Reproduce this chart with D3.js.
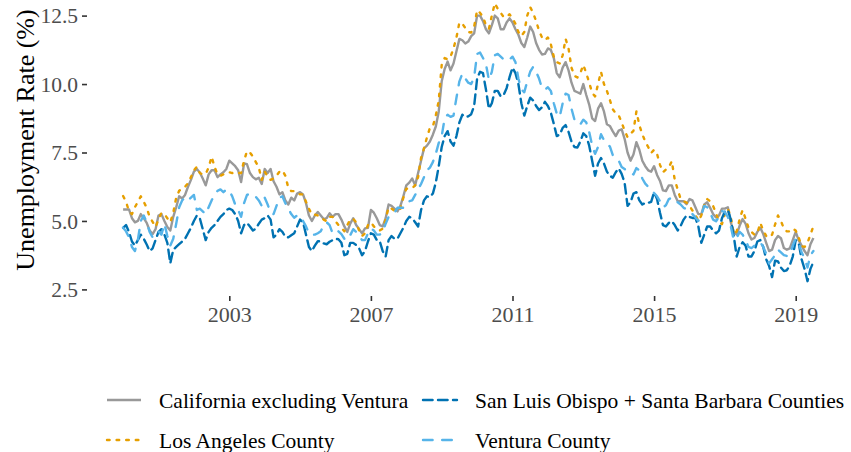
<!DOCTYPE html>
<html>
<head>
<meta charset="utf-8">
<script src="https://cdn.jsdelivr.net/npm/d3@7"></script>
<style>
  body { margin: 0; background: #fff; }
  svg { display: block; }
  text { font-family: "Liberation Serif", "Times New Roman", serif; }
</style>
</head>
<body>
<svg id="chart" width="851" height="452"></svg>
<script>
// monthly series, first value is January 2000
const startYear = 2000;

const seriesNames = [
	"California excluding Ventura",
	"Los Angeles County",
	"San Luis Obispo + Santa Barbara Counties",
	"Ventura County"
];

const caExVentura = [
	5.42, 5.42, 5.42, 5.1, 4.95, 5.0, 5.25, 5.1, 4.93, 4.65, 4.52, 4.7,        // 2000
	5.2, 5.25, 5.0, 4.78, 4.65, 5.15, 5.5, 5.9, 5.82, 5.95, 6.25, 6.5,         // 2001
	6.8, 6.9, 6.77, 6.55, 6.3, 6.7, 6.85, 6.85, 6.6, 6.7, 6.78, 6.9,           // 2002
	7.2, 7.1, 7.0, 6.85, 6.42, 7.1, 7.07, 6.75, 6.6, 6.52, 6.58, 6.35,         // 2003
	6.9, 6.75, 6.9, 6.45, 6.25, 5.97, 6.05, 5.75, 5.6, 5.85, 5.75, 6.0,        // 2004
	6.05, 5.97, 5.65, 5.2, 5.0, 5.2, 5.33, 5.2, 5.07, 5.1, 5.28, 5.15,         // 2005
	5.25, 5.25, 5.05, 4.8, 4.6, 4.9, 5.1, 4.85, 4.7, 4.55, 4.73, 4.75,         // 2006
	5.4, 5.3, 5.1, 4.85, 4.8, 5.1, 5.6, 5.55, 5.45, 5.35, 5.55, 5.9,           // 2007
	6.3, 6.4, 6.55, 6.3, 6.75, 7.2, 7.65, 7.75, 7.9, 8.15, 8.45, 9.0,          // 2008
	10.1, 10.55, 10.82, 10.5, 10.75, 11.2, 11.65, 11.6, 11.48, 11.55, 11.75, 11.85, // 2009
	12.5, 12.5, 12.3, 12.0, 11.85, 12.15, 12.5, 12.4, 12.0, 12.0, 12.25, 12.4, // 2010
	12.25, 12.0, 11.8, 11.5, 11.35, 11.7, 12.1, 11.9, 11.5, 11.25, 11.08, 11.1, // 2011
	11.3, 11.25, 10.95, 10.4, 10.25, 10.6, 10.8, 10.5, 10.05, 9.75, 9.7, 9.65, // 2012
	10.0, 9.6, 9.25, 8.75, 8.65, 9.1, 9.3, 9.0, 8.53, 8.47, 8.27, 8.1,         // 2013
	8.3, 8.35, 8.0, 7.5, 7.2, 7.43, 7.88, 7.6, 7.2, 7.0, 6.85, 6.8,            // 2014
	7.0, 6.68, 6.46, 6.12, 6.09, 6.3, 6.3, 5.95, 5.72, 5.72, 5.72, 5.61,       // 2015
	5.8, 5.75, 5.5, 5.25, 5.25, 5.6, 5.68, 5.48, 5.25, 5.13, 5.2, 5.45,        // 2016
	5.45, 5.5, 4.95, 4.61, 4.5, 4.83, 5.07, 4.9, 4.55, 4.32, 4.38, 4.6,        // 2017
	4.75, 4.52, 4.2, 3.9, 3.95, 4.3, 4.45, 4.37, 4.01, 3.95, 4.0, 4.3,         // 2018
	4.6, 4.3, 4.1, 3.9, 3.75, 4.15, 4.38                                       // 2019
];

const losAngeles = [
	5.91, 5.7, 5.35, 5.25, 5.5, 5.7, 5.9, 5.7, 5.48, 5.15, 4.97, 4.78,
	5.05, 5.3, 5.25, 5.1, 4.95, 5.3, 5.85, 6.1, 6.18, 6.25, 6.38, 6.6,
	6.85, 6.98, 6.75, 6.7, 6.72, 6.95, 7.35, 6.98, 6.7, 6.65, 6.7, 6.75,
	6.78, 6.75, 6.78, 6.75, 6.75, 7.2, 7.55, 7.5, 7.35, 7.15, 6.95, 6.5,
	6.8, 6.62, 6.5, 6.55, 6.65, 6.8, 6.85, 6.65, 6.21, 6.09, 6.09, 6.03,
	5.97, 5.97, 5.7, 5.45, 5.23, 5.23, 5.2, 5.13, 5.05, 4.99, 5.15, 5.15,
	4.99, 4.85, 4.75, 4.62, 4.85, 5.05, 5.08, 4.95, 4.65, 4.45, 4.55, 4.85,
	4.95, 4.8, 4.7, 4.65, 4.72, 5.05, 5.5, 5.45, 5.38, 5.38, 5.45, 5.85,
	6.18, 6.18, 6.2, 6.3, 6.6, 7.3, 7.65, 8.05, 8.4, 8.45, 8.85, 9.4,
	10.7, 10.95, 10.9, 11.0, 11.3, 11.7, 12.25, 12.2, 12.05, 11.9, 11.88, 12.1,
	12.7, 12.6, 12.45, 12.15, 12.02, 12.5, 12.95, 12.75, 12.6, 12.45, 12.45, 12.55,
	12.4, 12.2, 11.9, 11.75, 11.9, 12.5, 12.81, 12.6, 12.3, 11.95, 11.7, 11.6,
	11.7, 11.45, 11.0, 10.8, 10.75, 11.05, 11.65, 11.3, 10.6, 10.3, 10.24, 10.4,
	10.7, 10.4, 10.05, 9.68, 9.55, 10.0, 10.45, 10.0, 9.75, 9.42, 9.08, 8.93,
	8.86, 8.6, 8.3, 8.06, 8.18, 8.29, 9.0, 8.5, 8.17, 7.9, 7.7, 7.48,
	7.6, 7.45, 7.05, 6.78, 6.88, 6.95, 7.19, 6.5, 6.15, 5.8, 5.72, 5.67,
	5.55, 5.38, 5.23, 5.0, 5.2, 5.58, 5.8, 5.72, 5.55, 5.27, 4.98, 4.88,
	5.25, 5.45, 5.15, 4.5, 4.62, 5.07, 5.4, 5.08, 4.75, 4.6, 4.5, 4.55,
	4.93, 4.65, 4.45, 4.4, 4.5, 4.87, 5.2, 5.0, 4.72, 4.62, 4.62, 4.72,
	4.65, 4.4, 4.08, 4.05, 4.2, 4.5, 4.81
];

const sloSantaBarbara = [
	4.75, 4.85, 4.6, 4.25, 4.1, 4.3, 4.5, 4.35, 4.14, 3.9, 4.0, 4.3,
	4.6, 4.7, 4.5, 4.2, 3.45, 3.95, 4.05, 4.15, 4.25, 4.35, 4.55, 4.75,
	5.0, 5.2, 5.1, 4.7, 4.3, 4.6, 4.75, 4.85, 5.0, 5.15, 5.25, 5.4,
	5.45, 5.4, 5.25, 5.0, 4.55, 4.85, 4.93, 4.8, 4.65, 4.72, 4.9, 5.05,
	5.1, 5.2, 5.05, 4.4, 4.5, 4.7, 4.6, 4.42, 4.4, 4.48, 4.55, 4.8,
	5.05, 4.95, 4.5, 4.05, 3.9, 4.1, 4.26, 4.26, 4.18, 4.15, 4.24, 4.3,
	4.35, 4.33, 4.2, 3.75, 3.8, 4.2, 4.2, 4.12, 4.0, 3.75, 3.9, 4.25,
	4.55, 4.5, 4.3, 4.26, 3.9, 3.7, 4.3, 4.45, 4.35, 4.35, 4.55, 4.75,
	5.0, 5.15, 5.1, 4.95, 4.8, 5.4, 5.75, 5.9, 5.87, 6.0, 6.4, 7.0,
	7.7, 8.1, 8.28, 7.9, 7.75, 8.1, 8.6, 8.88, 8.8, 8.82, 8.9, 9.2,
	10.2, 10.45, 10.4, 9.8, 9.1, 9.3, 9.75, 9.75, 9.55, 9.6, 9.85, 10.25,
	10.6, 10.4, 10.0, 9.3, 8.85, 9.2, 9.5, 9.4, 9.2, 9.05, 9.15, 9.35,
	9.2, 8.95, 8.55, 8.1, 8.15, 8.4, 8.5, 8.25, 7.9, 7.7, 7.68, 7.9,
	8.2, 8.1, 7.75, 7.2, 6.65, 7.1, 7.3, 7.1, 6.8, 6.65, 6.58, 6.78,
	6.92, 6.72, 6.4, 5.55, 5.68, 6.0, 6.05, 5.75, 5.6, 5.66, 5.66, 5.7,
	6.05, 5.8, 5.3, 4.85, 4.8, 4.93, 4.99, 4.85, 4.65, 4.82, 5.05, 5.2,
	5.15, 5.11, 5.11, 4.8, 4.2, 4.5, 4.8, 4.8, 4.65, 4.55, 4.65, 5.1,
	5.35, 5.4, 5.05, 4.45, 3.7, 4.05, 4.22, 4.1, 3.7, 3.7, 3.9, 4.25,
	4.3, 4.05, 3.6, 3.35, 2.95, 3.55, 3.52, 3.3, 3.17, 3.2, 3.38, 3.7,
	4.3, 4.2, 3.6, 3.25, 2.8, 3.25, 3.5
];

const ventura = [
	4.75, 4.62, 4.4, 4.05, 3.9, 4.3, 5.0, 5.2, 4.95, 4.6, 4.4, 4.55,
	4.62, 4.5, 4.9, 4.45, 4.1, 4.35, 4.9, 5.5, 5.75, 5.85, 5.75, 5.85,
	5.95, 5.4, 5.45, 5.35, 5.25, 5.5, 5.75, 5.95, 6.1, 6.15, 6.05, 6.15,
	6.1, 5.9, 5.6, 5.4, 5.15, 5.65, 5.95, 6.0, 5.95, 5.88, 5.75, 5.55,
	5.85, 5.6, 5.3, 5.25, 5.55, 5.85, 5.9, 5.65, 5.45, 5.25, 5.12, 5.2,
	5.18, 5.0, 4.8, 4.55, 4.5, 4.5, 4.55, 4.62, 4.85, 4.95, 4.85, 4.55,
	4.52, 4.62, 4.52, 4.35, 4.3, 4.48, 4.7, 4.6, 4.45, 4.3, 4.3, 4.55,
	4.72, 4.65, 4.5, 4.5, 4.6, 4.9, 5.15, 5.23, 5.3, 5.48, 5.48, 5.48,
	5.65, 5.72, 5.75, 5.95, 6.15, 6.35, 6.6, 6.85, 6.95, 7.15, 7.45, 7.85,
	8.1, 8.75, 8.88, 8.8, 8.85, 9.5, 10.1, 10.38, 10.2, 10.05, 10.0, 10.25,
	11.1, 11.15, 10.95, 10.73, 10.15, 10.45, 11.05, 11.1, 11.0, 10.9, 10.95, 10.9,
	11.0, 10.8, 10.2, 9.8, 9.7, 10.1, 10.45, 10.63, 10.45, 10.2, 9.85, 9.8,
	9.88, 9.75, 9.3, 8.92, 8.8, 9.3, 9.65, 9.6, 9.1, 8.7, 8.55, 8.53,
	8.7, 8.6, 8.25, 7.75, 7.45, 7.7, 8.17, 7.95, 7.82, 7.72, 7.4, 7.31,
	7.2, 6.97, 6.9, 6.82, 6.75, 6.7, 6.93, 6.85, 6.55, 6.36, 6.25, 6.12,
	6.02, 5.9, 5.72, 5.5, 5.57, 5.8, 5.85, 5.8, 5.68, 5.6, 5.48, 5.43,
	5.37, 5.25, 5.13, 5.0, 5.2, 5.55, 5.5, 5.3, 5.05, 4.99, 5.15, 5.36,
	5.32, 5.15, 4.8, 4.3, 4.38, 4.6, 4.5, 4.3, 4.05, 4.01, 4.1, 4.2,
	4.22, 4.05, 3.8, 3.45, 3.6, 3.75, 3.95, 3.85, 3.75, 3.72, 3.77, 4.1,
	4.35, 4.2, 3.85, 3.65, 3.3, 3.75, 3.9
];

const xTicks = [2003, 2007, 2011, 2015, 2019];
const yTicks = [2.5, 5.0, 7.5, 10.0, 12.5];

const svg = d3.select("#chart");

const lw = 2.4;
const colorScale = d3.scaleOrdinal()
	.domain(seriesNames)
	.range(["#999999", "#E69F00", "#0072B2", "#56B4E9"]);
const dashScale = d3.scaleOrdinal()
	.domain(seriesNames)
	.range([null, "2.6 7", "9.6 5.4", "9.6 9.6"]);

const series = [caExVentura, losAngeles, sloSantaBarbara, ventura].map(function(vals, i) {
	return {
		name: seriesNames[i],
		values: vals.map(function(v, m) { return { t: startYear + m / 12, v: v }; })
	};
});

let xScale = d3.scaleLinear()
	.domain([2000, 2019])
	.range([123.1, 795.7]);
let yScale = d3.scaleLinear()
	.domain([2.5, 12.5])
	.range([289.4, 15.6]);

let line = d3.line()
	.x(function(d) { return xScale(d.t); })
	.y(function(d) { return yScale(d.v); });

// lines
svg.append("g")
	.selectAll("path")
	.data(series)
	.enter()
	.append("path")
	.attr("d", function(d) { return line(d.values); })
	.attr("fill", "none")
	.attr("stroke", function(d) { return colorScale(d.name); })
	.attr("stroke-width", lw)
	.attr("stroke-linecap", function(d) { return d.name === seriesNames[0] ? "butt" : "round"; })
	.attr("stroke-linejoin", "round")
	.attr("stroke-dasharray", function(d) { return dashScale(d.name); });

// x axis
let xAxis = svg.append("g")
	.attr("transform", "translate(0,296)")
	.call(d3.axisBottom(xScale).tickValues(xTicks).tickFormat(d3.format("d")).tickSize(5));
xAxis.select(".domain").remove();
xAxis.selectAll("line").attr("stroke", "#333").attr("stroke-width", 1.6);
xAxis.selectAll("text")
	.attr("y", 26).attr("dy", 0)
	.attr("fill", "#4d4d4d")
	.style("font-size", "22px")
	.style("font-family", "'Liberation Serif', serif");

// y axis
let yAxis = svg.append("g")
	.attr("transform", "translate(87,0)")
	.call(d3.axisLeft(yScale).tickValues(yTicks).tickFormat(d3.format(".1f")).tickSize(5));
yAxis.select(".domain").remove();
yAxis.selectAll("line").attr("stroke", "#333").attr("stroke-width", 1.6);
yAxis.selectAll("text")
	.attr("x", -9).attr("dy", "0.33em")
	.attr("fill", "#4d4d4d")
	.style("font-size", "21.5px")
	.style("font-family", "'Liberation Serif', serif");

// y axis title
svg.append("text")
	.attr("transform", "translate(34,140) rotate(-90)")
	.attr("text-anchor", "middle")
	.style("font-size", "26px")
	.attr("fill", "#000")
	.text("Unemployment Rate (%)");

// legend, two columns filled top to bottom
let legendPos = [[107, 400], [107, 440], [423, 400], [423, 440]];
let legend = svg.append("g")
	.selectAll("g")
	.data(seriesNames)
	.enter()
	.append("g")
	.attr("transform", function(d, i) { return "translate(" + legendPos[i][0] + "," + legendPos[i][1] + ")"; });

legend.append("line")
	.attr("x1", 0).attr("x2", 34)
	.attr("y1", 0).attr("y2", 0)
	.attr("stroke", function(d) { return colorScale(d); })
	.attr("stroke-width", lw)
	.attr("stroke-linecap", function(d) { return d === seriesNames[0] ? "butt" : "round"; })
	.attr("stroke-dasharray", function(d) { return dashScale(d); });

legend.append("text")
	.attr("x", 52)
	.attr("y", 7.5)
	.style("font-size", "21.5px")
	.attr("fill", "#000")
	.text(function(d) { return d; });
</script>
</body>
</html>
